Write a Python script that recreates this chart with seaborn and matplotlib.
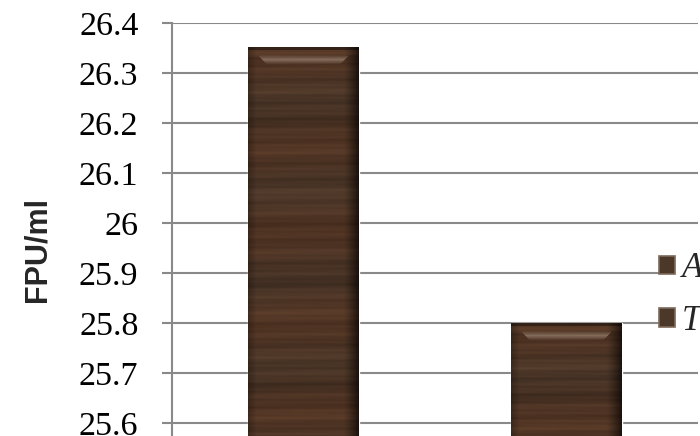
import numpy as np
import pandas as pd
import matplotlib
matplotlib.use("Agg")
import matplotlib.pyplot as plt
from matplotlib.patches import Patch
import seaborn as sns

# Filter-paper cellulase activity of the two strains
strains = ["Aspergillus niger", "Trichoderma reesei"]
activity = [26.35, 25.80]
y_ticks = [25.6, 25.7, 25.8, 25.9, 26.0, 26.1, 26.2, 26.3, 26.4]
y_tick_labels = ["25.6", "25.7", "25.8", "25.9", "26", "26.1", "26.2", "26.3", "26.4"]

sns.set_theme(style="white")
plt.rcParams["font.family"] = ["Liberation Serif", "DejaVu Serif"]

df = pd.DataFrame({"strain": strains, "FPU": activity})

W, H = 700, 436
fig = plt.figure(figsize=(W / 100, H / 100), dpi=100)
ax = fig.add_axes([172 / W, 0, 526 / W, 413 / H])

grid_col = "#898989"
sns.barplot(data=df, x="strain", y="FPU", hue="strain",
            palette=["#4a3627", "#4a3627"], width=0.42, legend=False,
            saturation=1, ax=ax, zorder=2)

ylo, yhi = 25.574, 26.4
ax.set_xlim(-0.5, 1.5)
ax.set_ylim(ylo, yhi)


def wood(h, w):
    """Dark stained-wood texture with a bevelled top edge."""
    r = np.arange(h)[:, None].astype(float)
    c = np.arange(w)[None, :].astype(float)
    streak = (0.07 * np.sin(r * 0.31 + 0.4 + 0.6 * np.sin(c * 0.02))
              + 0.05 * np.sin(r * 0.83 + 1.9 + c * 0.012)
              + 0.05 * np.sin(r * 0.117 + 2.6)
              + 0.03 * np.sin(r * 1.57 + 0.3 - c * 0.02)
              + 0.03 * np.sin(r * 0.047 + 1.1))
    shade = 1.0 + streak
    base = np.array([0.285, 0.205, 0.150])
    img = base[None, None, :] * shade[:, :, None]
    warm = 0.5 + 0.5 * np.sin(r * 0.071 + 0.7 + c * 0.004)
    img[:, :, 0] += 0.03 * warm
    img[:, :, 2] -= 0.01 * warm
    # side shading
    cols = np.arange(w)
    prof = np.ones(w)
    left = cols < 8
    prof[left] = 0.75 + 0.25 * cols[left] / 8
    right = cols >= w - 16
    prof[right] = 1.0 - 0.7 * ((cols[right] - (w - 16)) / 16) ** 1.3
    img *= prof[None, :, None]
    # top bevel
    img[:3] *= 0.6
    img[3:8] *= 1.05
    hl = np.array([0.55, 0.46, 0.39])
    for row in range(8, 17):
        inset = int(11 + (row - 8) * 0.9)
        s = 1.0 - abs(row - 12) / 5.0
        a, b = inset, w - inset
        if b > a:
            img[row, a:b] = img[row, a:b] * (1 - 0.85 * s) + hl * 0.85 * s
    return np.clip(img, 0, 1)


px_x = 526 / 2.0
px_y = 413 / (yhi - ylo)
for p in ax.patches:
    x0, w = p.get_x(), p.get_width()
    top = p.get_y() + p.get_height()
    wp = int(round(w * px_x))
    hp = int(round((top - ylo) * px_y))
    ax.imshow(wood(hp, wp), extent=[x0, x0 + w, ylo, top], aspect="auto",
              interpolation="bilinear", zorder=3)

ax.set_xlim(-0.5, 1.5)
ax.set_ylim(ylo, yhi)

ax.set_yticks(y_ticks)
ax.set_yticklabels(y_tick_labels, fontsize=24.5, color="black",
                   family="Liberation Serif")
ax.set_xticks([])
ax.set_xlabel("")
ax.set_ylabel("")
ax.tick_params(axis="y", length=7.2, width=1.5, color=grid_col, pad=17, left=True)
ax.yaxis.grid(True, color=grid_col, linewidth=1.5)
ax.set_axisbelow(True)
for s in ["top", "right", "bottom"]:
    ax.spines[s].set_visible(False)
ax.spines["left"].set_color(grid_col)
ax.spines["left"].set_linewidth(1.5)

fig.text(37 / W, 1 - 249 / H, "FPU/ml", rotation=90, ha="center", va="center",
         family="Liberation Sans", weight="bold", fontsize=22)

handles = [Patch(facecolor="#4b3829", edgecolor="#7d6a5a", linewidth=1.2) for _ in strains]
leg = fig.legend(handles, strains, loc="center left",
                 bbox_to_anchor=(659 / W, 1 - 295 / H),
                 prop={"family": "Liberation Serif", "style": "italic", "size": 25},
                 handlelength=0.45, handleheight=0.45, handletextpad=0.2,
                 labelspacing=0.55, borderpad=0.0, borderaxespad=0.0,
                 frameon=True, facecolor="white", edgecolor="none", framealpha=1)

fig.savefig("out.png", dpi=100)
